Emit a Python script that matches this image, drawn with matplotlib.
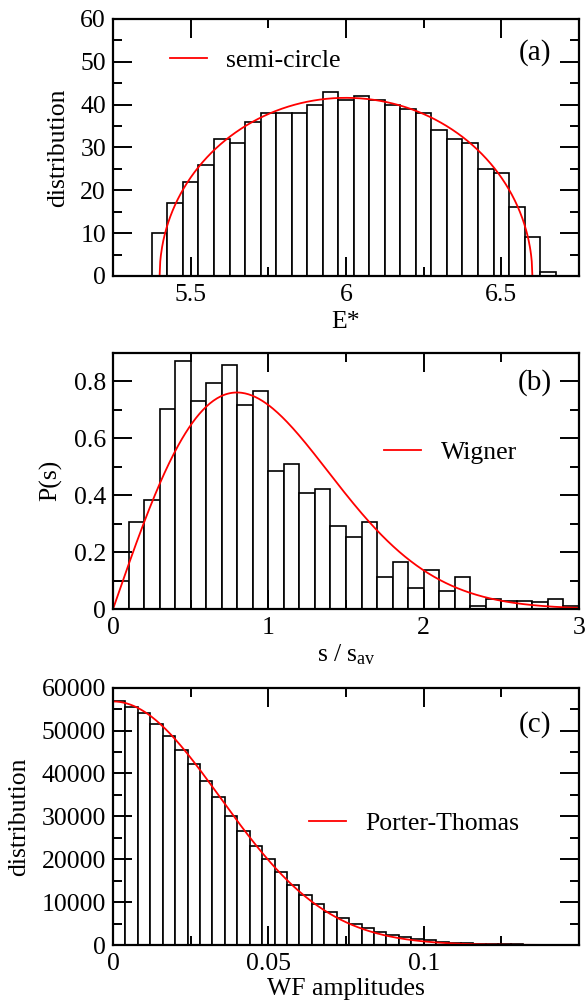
import numpy as np
import matplotlib
matplotlib.use("Agg")
import matplotlib.pyplot as plt
from matplotlib.lines import Line2D
from matplotlib.ticker import MultipleLocator

plt.rcParams['font.family'] = ['Liberation Serif', 'DejaVu Serif']
plt.rcParams['mathtext.fontset'] = 'custom'
plt.rcParams['mathtext.rm'] = 'Liberation Serif'
plt.rcParams['mathtext.it'] = 'Liberation Serif:italic'
plt.rcParams['font.size'] = 18.5

# (a) level density histogram, E* bins of 0.05 starting at 5.375
e_start = 5.375
e_width = 0.05
e_counts = [10, 17, 22, 26, 32, 31, 36, 38, 38, 38, 40, 43, 41,
            42, 41, 40, 39, 38, 34, 32, 31, 25, 24, 16, 9, 1]
sc_center = 6.0
sc_radius = 0.6

# (b) nearest neighbour spacing, bins of 0.1
s_start = 0.0
s_width = 0.1
s_hist = [0.100, 0.305, 0.382, 0.702, 0.871, 0.729, 0.794, 0.858, 0.716, 0.767,
          0.484, 0.510, 0.407, 0.420, 0.292, 0.253, 0.305, 0.111, 0.164, 0.074,
          0.138, 0.063, 0.113, 0.012, 0.036, 0.027, 0.027, 0.025, 0.036, 0.012]

# (c) wave-function amplitudes, bins of 0.004
w_start = 0.0
w_width = 0.004
w_counts = [56800, 55500, 54200, 51500, 48800, 45400, 42100, 38300, 34400, 30200,
            26500, 23200, 20000, 17100, 14000, 11600, 9500, 7600, 6200, 4800,
            3950, 3000, 2350, 1850, 1400, 1050, 770, 580, 440, 330,
            250, 180, 130, 90, 60, 40, 25]
pt_peak = 56800
pt_sigma = 0.03445

fig = plt.figure(figsize=(5.85, 10.05), dpi=100)
axa = fig.add_axes([0.1932, 0.7254, 0.7965, 0.2557])
axb = fig.add_axes([0.1932, 0.3940, 0.7965, 0.2551])
axc = fig.add_axes([0.1932, 0.0597, 0.7965, 0.2560])


def draw_hist(ax, start, width, heights):
    left = start + width * np.arange(len(heights))
    ax.bar(left, heights, width=width, align='edge', facecolor='white',
           edgecolor='black', linewidth=1.2, zorder=1)


def style(ax, xmaj, xmin, ymaj, ymin):
    ax.xaxis.set_major_locator(MultipleLocator(xmaj))
    ax.xaxis.set_minor_locator(MultipleLocator(xmin))
    ax.yaxis.set_major_locator(MultipleLocator(ymaj))
    ax.yaxis.set_minor_locator(MultipleLocator(ymin))
    ax.tick_params(which='both', direction='in', top=True, right=True, width=1.4)
    ax.tick_params(which='major', length=13.5, pad=6)
    ax.tick_params(which='minor', length=6.5)
    ax.tick_params(axis='y', pad=5)
    for sp in ax.spines.values():
        sp.set_linewidth(1.6)
        sp.set_zorder(5)


def legend(ax, label, x, y):
    h = Line2D([], [], color='red', lw=1.3)
    ax.legend([h], [label], loc='center left', bbox_to_anchor=(x, y),
              borderaxespad=0, borderpad=0, handlelength=1.45,
              handletextpad=0.75, frameon=False, fontsize=18.5)


# panel (a)
draw_hist(axa, e_start, e_width, e_counts)
xe = np.linspace(sc_center - sc_radius, sc_center + sc_radius, 600)
norm = sum(e_counts) * e_width * 2 / (np.pi * sc_radius ** 2)
axa.plot(xe, norm * np.sqrt(np.clip(sc_radius ** 2 - (xe - sc_center) ** 2, 0, None)),
         color='red', lw=1.3, zorder=3)
axa.set_xlim(5.25, 6.75)
axa.set_ylim(0, 60)
style(axa, 0.5, 0.25, 10, 5)
axa.set_xticks([5.5, 6, 6.5])
axa.set_xticklabels(['5.5', '6', '6.5'])
axa.set_xlabel('E*')
axa.set_ylabel('distribution')
axa.xaxis.set_label_coords(0.5, -0.135)
axa.yaxis.set_label_coords(-0.095, 0.5)
legend(axa, 'semi-circle', 0.122, 0.84)
axa.text(0.906, 0.868, '(a)', transform=axa.transAxes, ha='center', va='center', fontsize=21)

# panel (b)
draw_hist(axb, s_start, s_width, s_hist)
xs = np.linspace(0, 3, 400)
axb.plot(xs, np.pi / 2 * xs * np.exp(-np.pi * xs ** 2 / 4), color='red', lw=1.3, zorder=3)
axb.set_xlim(0, 3)
axb.set_ylim(0, 0.9)
style(axb, 1, 0.5, 0.2, 0.1)
axb.set_yticks([0, 0.2, 0.4, 0.6, 0.8])
axb.set_yticklabels(['0', '0.2', '0.4', '0.6', '0.8'])
axb.set_xlabel(r'$\mathregular{s\ /\ s_{av}}$')
axb.set_ylabel('P(s)')
axb.xaxis.set_label_coords(0.5, -0.13)
axb.yaxis.set_label_coords(-0.109, 0.5)
legend(axb, 'Wigner', 0.5815, 0.609)
axb.text(0.906, 0.883, '(b)', transform=axb.transAxes, ha='center', va='center', fontsize=21)

# panel (c)
draw_hist(axc, w_start, w_width, w_counts)
xw = np.linspace(0, 0.15, 400)
axc.plot(xw, pt_peak * np.exp(-xw ** 2 / (2 * pt_sigma ** 2)), color='red', lw=1.3, zorder=3)
axc.set_xlim(0, 0.15)
axc.set_ylim(0, 60000)
style(axc, 0.05, 0.025, 10000, 5000)
axc.set_xticks([0, 0.05, 0.1])
axc.set_xticklabels(['0', '0.05', '0.1'])
axc.set_xlabel('WF amplitudes')
axc.set_ylabel('distribution')
axc.xaxis.set_label_coords(0.5, -0.128)
axc.yaxis.set_label_coords(-0.178, 0.5)
legend(axc, 'Porter-Thomas', 0.42, 0.473)
axc.text(0.906, 0.855, '(c)', transform=axc.transAxes, ha='center', va='center', fontsize=21)

fig.savefig('out.png', dpi=100)
